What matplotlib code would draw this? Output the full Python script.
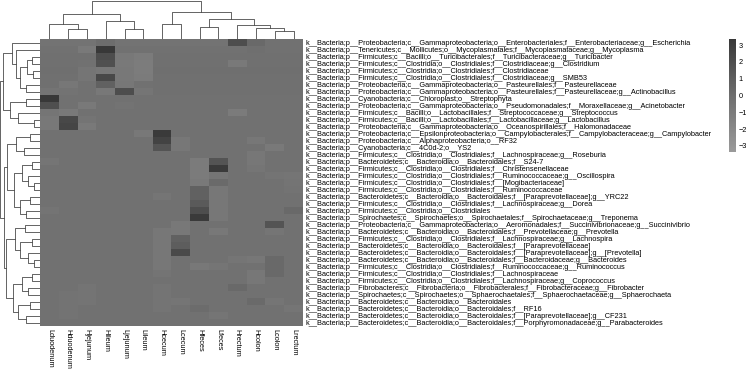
import matplotlib
matplotlib.use("Agg")
import matplotlib.pyplot as plt
import numpy as np
from matplotlib.colors import LinearSegmentedColormap, Normalize
from matplotlib.colorbar import ColorbarBase

plt.rcParams["font.family"] = ["Liberation Sans", "DejaVu Sans"]

# --- data -----------------------------------------------------------------
samples = ["Lduodenum", "Hduodenum", "Hjejunum", "Hileum", "Ljejunum", "Lileum",
           "Hcecum", "Lcecum", "Hfeces", "Lfeces", "Hrectum", "Hcolon",
           "Lcolon", "Lrectum"]

taxa = [
    "k__Bacteria;p__Proteobacteria;c__Gammaproteobacteria;o__Enterobacteriales;f__Enterobacteriaceae;g__Escherichia",
    "k__Bacteria;p__Tenericutes;c__Mollicutes;o__Mycoplasmatales;f__Mycoplasmataceae;g__Mycoplasma",
    "k__Bacteria;p__Firmicutes;c__Bacilli;o__Turicibacterales;f__Turicibacteraceae;g__Turicibacter",
    "k__Bacteria;p__Firmicutes;c__Clostridia;o__Clostridiales;f__Clostridiaceae;g__Clostridium",
    "k__Bacteria;p__Firmicutes;c__Clostridia;o__Clostridiales;f__Clostridiaceae",
    "k__Bacteria;p__Firmicutes;c__Clostridia;o__Clostridiales;f__Clostridiaceae;g__SMB53",
    "k__Bacteria;p__Proteobacteria;c__Gammaproteobacteria;o__Pasteurellales;f__Pasteurellaceae",
    "k__Bacteria;p__Proteobacteria;c__Gammaproteobacteria;o__Pasteurellales;f__Pasteurellaceae;g__Actinobacillus",
    "k__Bacteria;p__Cyanobacteria;c__Chloroplast;o__Streptophyta",
    "k__Bacteria;p__Proteobacteria;c__Gammaproteobacteria;o__Pseudomonadales;f__Moraxellaceae;g__Acinetobacter",
    "k__Bacteria;p__Firmicutes;c__Bacilli;o__Lactobacillales;f__Streptococcaceae;g__Streptococcus",
    "k__Bacteria;p__Firmicutes;c__Bacilli;o__Lactobacillales;f__Lactobacillaceae;g__Lactobacillus",
    "k__Bacteria;p__Proteobacteria;c__Gammaproteobacteria;o__Oceanospirillales;f__Halomonadaceae",
    "k__Bacteria;p__Proteobacteria;c__Epsilonproteobacteria;o__Campylobacterales;f__Campylobacteraceae;g__Campylobacter",
    "k__Bacteria;p__Proteobacteria;c__Alphaproteobacteria;o__RF32",
    "k__Bacteria;p__Cyanobacteria;c__4C0d-2;o__YS2",
    "k__Bacteria;p__Firmicutes;c__Clostridia;o__Clostridiales;f__Lachnospiraceae;g__Roseburia",
    "k__Bacteria;p__Bacteroidetes;c__Bacteroidia;o__Bacteroidales;f__S24-7",
    "k__Bacteria;p__Firmicutes;c__Clostridia;o__Clostridiales;f__Christensenellaceae",
    "k__Bacteria;p__Firmicutes;c__Clostridia;o__Clostridiales;f__Ruminococcaceae;g__Oscillospira",
    "k__Bacteria;p__Firmicutes;c__Clostridia;o__Clostridiales;f__[Mogibacteriaceae]",
    "k__Bacteria;p__Firmicutes;c__Clostridia;o__Clostridiales;f__Ruminococcaceae",
    "k__Bacteria;p__Bacteroidetes;c__Bacteroidia;o__Bacteroidales;f__[Paraprevotellaceae];g__YRC22",
    "k__Bacteria;p__Firmicutes;c__Clostridia;o__Clostridiales;f__Lachnospiraceae;g__Dorea",
    "k__Bacteria;p__Firmicutes;c__Clostridia;o__Clostridiales",
    "k__Bacteria;p__Spirochaetes;c__Spirochaetes;o__Spirochaetales;f__Spirochaetaceae;g__Treponema",
    "k__Bacteria;p__Proteobacteria;c__Gammaproteobacteria;o__Aeromonadales;f__Succinivibrionaceae;g__Succinivibrio",
    "k__Bacteria;p__Bacteroidetes;c__Bacteroidia;o__Bacteroidales;f__Prevotellaceae;g__Prevotella",
    "k__Bacteria;p__Firmicutes;c__Clostridia;o__Clostridiales;f__Lachnospiraceae;g__Lachnospira",
    "k__Bacteria;p__Bacteroidetes;c__Bacteroidia;o__Bacteroidales;f__[Paraprevotellaceae]",
    "k__Bacteria;p__Bacteroidetes;c__Bacteroidia;o__Bacteroidales;f__[Paraprevotellaceae];g__[Prevotella]",
    "k__Bacteria;p__Bacteroidetes;c__Bacteroidia;o__Bacteroidales;f__Bacteroidaceae;g__Bacteroides",
    "k__Bacteria;p__Firmicutes;c__Clostridia;o__Clostridiales;f__Ruminococcaceae;g__Ruminococcus",
    "k__Bacteria;p__Firmicutes;c__Clostridia;o__Clostridiales;f__Lachnospiraceae",
    "k__Bacteria;p__Firmicutes;c__Clostridia;o__Clostridiales;f__Lachnospiraceae;g__Coprococcus",
    "k__Bacteria;p__Fibrobacteres;c__Fibrobacteria;o__Fibrobacterales;f__Fibrobacteraceae;g__Fibrobacter",
    "k__Bacteria;p__Spirochaetes;c__Spirochaetes;o__Sphaerochaetales;f__Sphaerochaetaceae;g__Sphaerochaeta",
    "k__Bacteria;p__Bacteroidetes;c__Bacteroidia;o__Bacteroidales",
    "k__Bacteria;p__Bacteroidetes;c__Bacteroidia;o__Bacteroidales;f__RF16",
    "k__Bacteria;p__Bacteroidetes;c__Bacteroidia;o__Bacteroidales;f__[Paraprevotellaceae];g__CF231",
    "k__Bacteria;p__Bacteroidetes;c__Bacteroidia;o__Bacteroidales;f__Porphyromonadaceae;g__Parabacteroides",
]

# row z-scores, one list per taxon (columns in the order of `samples`)
zscores = [
    [-0.4, -0.4, -0.4,  0.0, -0.4, -0.4, -0.4, -0.4, -0.4, -0.4,  2.0,  0.3, -0.3, -0.3],
    [-0.3, -0.3, -0.9,  3.3, -0.3, -0.3, -0.3, -0.3, -0.3, -0.3, -0.3, -0.1, -0.3, -0.3],
    [-0.2, -0.2, -0.2,  2.0, -0.8, -1.0, -0.2, -0.2, -0.2, -0.2, -0.2, -0.2, -0.2, -0.2],
    [-0.2, -0.2, -0.3,  1.8, -0.9, -1.1, -0.2, -0.2, -0.2, -0.2, -0.9, -0.2, -0.2, -0.2],
    [-0.1, -0.1, -0.6, -0.7, -0.8, -1.1, -0.1, -0.1, -0.1, -0.1, -0.1, -0.1, -0.1, -0.1],
    [-0.2, -0.2, -0.6,  2.3, -0.8, -1.0, -0.2, -0.2, -0.2, -0.2, -0.2, -0.2, -0.2, -0.2],
    [-0.2, -0.7, -0.3,  0.8, -0.7, -0.3, -0.2, -0.2, -0.2, -0.2, -0.2, -0.2, -0.2, -0.2],
    [-0.5, -0.4, -0.3, -0.8,  2.0, -0.6, -0.2, -0.2, -0.2, -0.2, -0.2, -0.2, -0.2, -0.2],
    [ 3.4, -0.3, -0.3, -0.3, -0.3, -0.3, -0.3, -0.3, -0.3, -0.3, -0.3, -0.3, -0.3, -0.3],
    [ 1.9, -0.3, -0.9, -0.3, -0.4, -0.3, -0.3, -0.3, -0.3, -0.3, -0.3, -0.3, -0.3, -0.3],
    [-0.6, -0.9, -0.3, -0.3, -0.3, -0.3, -0.3, -0.3, -0.3, -0.3, -1.0, -0.3, -0.3, -0.3],
    [-0.8,  2.3, -0.5, -0.3, -0.3, -0.3, -0.3, -0.3, -0.3, -0.3, -0.3, -0.3, -0.3, -0.3],
    [-0.8,  2.5, -0.9, -0.3, -0.3, -0.3, -0.3, -0.3, -0.3, -0.3, -0.3, -0.3, -0.3, -0.3],
    [-0.3, -0.3, -0.3, -0.3, -0.3, -0.8,  3.2, -0.3, -0.3, -0.3, -0.3, -0.3, -0.3, -0.3],
    [-0.3, -0.3, -0.3, -0.3, -0.3, -0.3,  2.6, -0.7, -0.3, -0.3, -0.3, -0.7, -0.3, -0.3],
    [-0.3, -0.3, -0.3, -0.3, -0.3, -0.3,  1.6, -0.7, -0.3, -0.3, -0.3, -0.3, -0.9, -0.3],
    [-0.3, -0.3, -0.3, -0.3, -0.3, -0.3, -0.3, -0.3, -0.3, -0.3, -0.3, -0.7, -0.3, -0.3],
    [-0.6, -0.3, -0.3, -0.3, -0.3, -0.3, -0.3, -0.3, -1.0,  1.6, -0.3, -0.7, -0.3, -0.3],
    [-0.3, -0.3, -0.3, -0.3, -0.3, -0.3, -0.3, -0.3, -1.0,  3.2, -0.3, -0.6, -0.3, -0.3],
    [-0.3, -0.3, -0.3, -0.3, -0.3, -0.3, -0.3, -0.3, -1.0, -0.6, -0.3, -0.3, -0.5, -0.6],
    [-0.3, -0.3, -0.3, -0.3, -0.3, -0.3, -0.3, -0.3, -0.9,  0.2, -0.3, -0.3, -0.3, -0.5],
    [-0.3, -0.3, -0.3, -0.3, -0.3, -0.3, -0.3, -0.3,  0.8, -0.7, -0.3, -0.3, -0.3, -0.4],
    [-0.3, -0.3, -0.3, -0.3, -0.3, -0.3, -0.6, -0.3,  0.8, -0.7, -0.3, -0.3, -0.3, -0.3],
    [-0.3, -0.3, -0.3, -0.3, -0.3, -0.3, -0.3, -0.3,  1.2, -0.7, -0.3, -0.3, -0.3, -0.3],
    [-0.5, -0.3, -0.3, -0.3, -0.3, -0.3, -0.3, -0.3,  2.0, -0.7, -0.3, -0.3, -0.3,  0.3],
    [-0.3, -0.3, -0.3, -0.3, -0.3, -0.3, -0.3, -0.3,  3.2, -0.7, -0.3, -0.3, -0.3, -0.3],
    [-0.3, -0.3, -0.3, -0.3, -0.3, -0.3, -0.3, -0.8, -0.3, -0.3, -0.3, -0.3,  1.6, -0.3],
    [-0.3, -0.3, -0.3, -0.3, -0.3, -0.3, -0.7, -0.8, -0.3, -0.8, -0.3, -0.3, -0.6, -0.3],
    [-0.3, -0.3, -0.3, -0.3, -0.3, -0.3, -0.7,  0.8, -0.3, -0.3, -0.3, -0.3, -0.3, -0.3],
    [-0.3, -0.3, -0.3, -0.3, -0.3, -0.3, -0.7,  1.0, -0.3, -0.3, -0.3, -0.3, -0.3, -0.3],
    [-0.3, -0.3, -0.3, -0.3, -0.3, -0.3, -0.7,  2.2, -0.3, -0.3, -0.3, -0.3, -0.3, -0.3],
    [-0.3, -0.3, -0.3, -0.3, -0.3, -0.3, -0.7, -0.3, -0.3, -0.3, -0.6, -0.7,  0.3, -0.3],
    [-0.3, -0.3, -0.3, -0.3, -0.3, -0.3, -0.7, -0.3, -0.8, -0.6, -0.3, -0.3,  0.3, -0.3],
    [-0.3, -0.3, -0.3, -0.3, -0.3, -0.3, -0.5, -0.3, -0.3, -0.3, -0.3, -0.7,  0.3, -0.3],
    [-0.3, -0.3, -0.3, -0.3, -0.3, -0.3, -0.3, -0.3, -0.3, -0.3, -0.3, -0.7, -0.3, -0.3],
    [-0.3, -0.3, -0.5, -0.3, -0.3, -0.3, -0.5, -0.3, -0.3, -0.3,  0.3, -0.3, -0.3, -0.3],
    [-0.3, -0.4, -0.5, -0.3, -0.3, -0.3, -0.5, -0.3, -0.3, -0.3, -0.3, -0.3, -0.3, -0.3],
    [-0.3, -0.4, -0.5, -0.3, -0.3, -0.3, -0.5, -0.6, -0.3, -0.3, -0.3,  0.2, -0.6, -0.3],
    [-0.3, -0.4, -0.3, -0.3, -0.3, -0.3, -0.5, -0.3,  0.1, -0.3, -0.3, -0.3, -0.3, -0.6],
    [-0.3, -0.4, -0.3, -0.3, -0.3, -0.3, -0.3, -0.3, -0.3, -0.6, -0.3, -0.3, -0.3, -0.3],
    [-0.3, -0.3, -0.3, -0.3, -0.3, -0.3, -0.3, -0.3, -0.3, -0.3, -0.3, -0.3, -0.3, -0.3],
]

# dendrograms as nested (merge height, left, right); leaves are display indices
col_tree = (38,
            (25, (15, 0, (10, 1, 2)), (18, 3, (10, 4, 5))),
            (27, (15, 6, 7),
                 (20, (12, 8, 9), (14, 10, (11, 11, (8, 12, 13))))))

row_tree = (40,
            (37,
             (28, 0, (24, 1, (20, (13, (8, 2, 3), (7, 4, 5)), (14, 6, 7)))),
             (30, (14, 8, 9), (22, 10, (6, 11, 12)))),
            (36,
             (33, (24, (10, 13, 14), (16, 15, 16)),
                  (26, (18, (8, 17, 18), (12, 19, (6, 20, 21))),
                       (20, (10, 22, 23), (14, 24, 25)))),
             (34, (25, (15, 26, 27), (20, (8, 28, 29), (12, 30, (6, 31, 32)))),
                  (27, (18, (8, 33, 34), (12, 35, 36)),
                       (22, (10, 37, 38), (14, 39, 40))))))

# --- figure ---------------------------------------------------------------
W, H = 746, 372
fig = plt.figure(figsize=(W / 100, H / 100), dpi=100)


def px_axes(x0, y0, x1, y1):
    return fig.add_axes([x0 / W, 1 - y1 / H, (x1 - x0) / W, (y1 - y0) / H])


cmap = LinearSegmentedColormap.from_list("grey_z", ["#9a9a9a", "#6e6e6e", "#383838"])
norm = Normalize(vmin=-3.36, vmax=3.36)
LINE = dict(color="#4a4a4a", linewidth=0.6)

data = np.array(zscores)
n_rows, n_cols = data.shape

ax = px_axes(40, 39, 303, 326)
ax.imshow(data, cmap=cmap, norm=norm, aspect="auto", interpolation="nearest",
          extent=(0, n_cols, n_rows, 0))
ax.set_xlim(0, n_cols)
ax.set_ylim(n_rows, 0)
for s in ax.spines.values():
    s.set_visible(False)
ax.yaxis.tick_right()
ax.set_yticks(np.arange(n_rows) + 0.5)
ax.set_yticklabels(taxa, fontsize=5.3)
ax.set_xticks(np.arange(n_cols) + 0.5)
ax.set_xticklabels(samples, fontsize=5.3, rotation=-90)
ax.tick_params(length=0, pad=2)


def draw_tree(axd, node, horizontal):
    """Draw a dendrogram node; returns (leaf-axis centre, height)."""
    if not isinstance(node, tuple):
        return node + 0.5, 0.0
    h, left, right = node
    cl, hl = draw_tree(axd, left, horizontal)
    cr, hr = draw_tree(axd, right, horizontal)
    xs, ys = [cl, cl, cr, cr], [hl, h, h, hr]
    if horizontal:
        axd.plot(xs, ys, **LINE)
    else:
        axd.plot(ys, xs, **LINE)
    return (cl + cr) / 2, h


axc = px_axes(40, 0, 303, 39)
draw_tree(axc, col_tree, True)
axc.set_xlim(0, n_cols)
axc.set_ylim(0, 39)
axc.axis("off")

axr = px_axes(0, 39, 40, 326)
draw_tree(axr, row_tree, False)
axr.set_xlim(40, 0)
axr.set_ylim(n_rows, 0)
axr.axis("off")

cax = px_axes(729, 39, 736, 152)
cb = ColorbarBase(cax, cmap=cmap, norm=norm, ticks=range(-3, 4))
cb.outline.set_visible(False)
cax.tick_params(length=0, labelsize=5.3, pad=2)

fig.savefig("out.png", dpi=100)
